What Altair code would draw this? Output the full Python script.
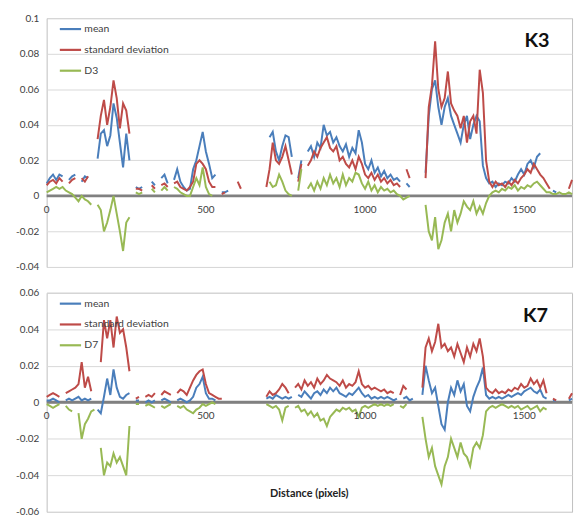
import altair as alt
import pandas as pd

N = None

# x positions (pixels along the profile), every 10 px from 0 to 1650
x_values = list(range(0, 1651, 10))

# ---------------- K3 panel ----------------
k3_mean = (
    [0.007, 0.010, 0.012, 0.009, 0.012, 0.011, N, 0.009, 0.011, 0.012]
    + [N, 0.008, 0.011, 0.010, N, N, 0.021, 0.035, 0.037, 0.028]
    + [0.034, 0.052, 0.044, 0.030, 0.016, 0.035, 0.020, N, 0.005, 0.004]
    + [0.005, N, N, 0.008, 0.006, N, 0.010, 0.012, 0.007, N]
    + [0.009, 0.015, 0.008, 0.005, 0.003, 0.004, 0.015, 0.020, 0.028, 0.036]
    + [0.025, 0.018, 0.010, 0.012, N, 0.002, 0.002, 0.003, N, N]
    + [0.006, N, N, N, N, N, N, N, N, N]
    + [0.033, 0.036, 0.025, 0.020, 0.028, 0.034, 0.033, 0.022, N, 0.010]
    + [0.020, N, 0.025, 0.028, 0.022, 0.030, 0.027, 0.040, 0.034, 0.036]
    + [0.030, 0.033, 0.028, 0.025, 0.029, 0.022, 0.027, 0.024, 0.037, 0.030]
    + [0.018, 0.015, 0.020, 0.013, 0.016, 0.011, 0.014, 0.010, 0.012, 0.009]
    + [0.010, 0.008, N, 0.007, 0.005, N, N, N, N, 0.013]
    + [0.045, 0.060, 0.065, 0.050, 0.040, 0.050, 0.055, 0.045, 0.040, 0.035]
    + [0.030, 0.040, 0.045, 0.032, 0.040, 0.045, 0.042, 0.017, 0.010, 0.007]
    + [0.008, 0.005, 0.007, 0.006, 0.008, 0.007, 0.010, 0.008, 0.012, 0.015]
    + [0.012, 0.018, 0.020, 0.016, 0.022, 0.024, N, N, N, 0.003]
    + [0.002, N, N, N, N, N]
)
k3_std = (
    [0.006, 0.008, 0.009, 0.007, 0.010, 0.008, N, 0.007, 0.009, 0.010]
    + [N, 0.010, 0.008, 0.011, N, N, 0.032, 0.045, 0.054, 0.040]
    + [0.050, 0.065, 0.055, 0.038, 0.052, 0.048, 0.035, N, 0.004, 0.004]
    + [0.003, N, N, 0.006, 0.004, N, 0.006, 0.007, 0.005, N]
    + [0.007, 0.008, 0.005, 0.004, 0.003, 0.005, 0.008, 0.018, 0.020, 0.018]
    + [0.015, 0.008, 0.005, 0.005, N, 0.001, 0.002, N, N, N]
    + [0.008, 0.004, N, N, N, N, N, N, N, 0.005]
    + [0.015, 0.030, 0.020, 0.018, 0.022, 0.028, 0.020, 0.012, N, 0.008]
    + [0.018, N, 0.017, 0.020, 0.025, 0.022, 0.027, 0.030, 0.033, 0.027]
    + [0.025, 0.028, 0.020, 0.022, 0.018, 0.016, 0.020, 0.015, 0.022, 0.018]
    + [0.012, 0.010, 0.013, 0.009, 0.012, 0.008, 0.010, 0.007, 0.009, 0.006]
    + [0.007, 0.005, N, 0.015, 0.010, N, 0.004, N, N, 0.010]
    + [0.050, 0.062, 0.087, 0.060, 0.050, 0.055, 0.070, 0.052, 0.048, 0.045]
    + [0.038, 0.045, 0.030, 0.042, 0.045, 0.035, 0.071, 0.058, 0.020, 0.008]
    + [0.005, 0.008, 0.006, 0.007, 0.005, 0.008, 0.006, 0.009, 0.007, 0.010]
    + [0.012, 0.015, 0.013, 0.018, 0.015, 0.012, 0.010, 0.007, 0.004, N]
    + [N, N, 0.002, N, 0.004, 0.009]
)
k3_d = (
    [0.002, 0.003, 0.004, 0.005, 0.004, 0.005, 0.003, 0.002, 0.001, -0.001]
    + [-0.003, 0.000, -0.002, -0.003, -0.005, N, -0.005, -0.008, -0.020, -0.015]
    + [-0.008, 0.000, -0.010, -0.020, -0.031, -0.015, -0.012, N, 0.002, 0.001]
    + [0.002, N, N, 0.004, 0.002, N, 0.003, 0.005, 0.003, N]
    + [0.005, 0.004, 0.002, 0.001, 0.000, 0.000, 0.005, 0.010, 0.006, 0.016]
    + [0.005, 0.001, 0.000, N, N, N, N, N, N, N]
    + [0.000, N, N, N, N, N, N, N, N, N]
    + [0.008, 0.005, 0.006, 0.012, 0.008, 0.003, 0.001, 0.000, N, 0.003]
    + [0.015, N, 0.004, 0.007, 0.003, 0.008, 0.004, 0.010, 0.006, 0.012]
    + [0.007, 0.010, 0.005, 0.012, 0.006, 0.010, 0.008, 0.013, 0.012, 0.007]
    + [0.004, 0.008, 0.003, 0.006, 0.002, 0.005, 0.003, 0.004, 0.002, 0.003]
    + [0.001, 0.000, -0.002, -0.001, 0.000, N, N, N, N, -0.005]
    + [-0.020, -0.025, -0.012, -0.030, -0.025, -0.015, -0.010, -0.020, -0.008, -0.015]
    + [-0.010, -0.003, -0.006, -0.008, -0.003, -0.010, -0.006, -0.010, -0.004, 0.000]
    + [0.002, 0.003, 0.002, 0.004, 0.003, 0.005, 0.004, 0.006, 0.003, 0.005]
    + [0.004, 0.006, 0.005, 0.007, 0.008, 0.006, 0.004, 0.002, 0.002, 0.001]
    + [0.001, 0.002, 0.001, 0.001, 0.002, 0.001]
)

# ---------------- K7 panel ----------------
k7_mean = (
    [0.001, 0.001, 0.002, 0.001, 0.000, N, 0.001, 0.002, 0.001, 0.002]
    + [0.003, 0.001, 0.002, 0.001, 0.002, N, -0.004, -0.006, 0.003, 0.013]
    + [0.004, 0.018, 0.008, 0.003, 0.002, 0.004, 0.005, N, 0.001, 0.001]
    + [N, 0.000, 0.001, 0.000, 0.001, N, 0.001, 0.002, 0.001, 0.000]
    + [N, 0.001, 0.002, 0.001, 0.000, 0.001, 0.003, 0.008, 0.010, 0.014]
    + [0.005, 0.002, 0.002, 0.001, N, 0.001, N, 0.001, N, N]
    + [0.001, N, N, N, N, N, N, N, N, 0.002]
    + [0.003, 0.002, 0.004, 0.003, 0.002, 0.003, 0.002, 0.003, N, 0.004]
    + [0.003, 0.006, 0.004, 0.002, 0.005, 0.006, 0.004, 0.007, 0.005, 0.008]
    + [0.006, 0.008, 0.005, 0.004, 0.003, 0.005, 0.004, 0.006, 0.008, 0.005]
    + [0.003, 0.004, 0.002, 0.003, 0.002, 0.003, 0.002, 0.003, 0.002, 0.001]
    + [0.002, N, 0.002, 0.003, 0.001, 0.002, N, N, 0.004, 0.020]
    + [0.012, 0.005, 0.008, -0.002, -0.012, -0.015, 0.000, 0.008, 0.004, 0.012]
    + [0.006, 0.010, -0.002, -0.005, 0.003, 0.008, 0.012, 0.019, 0.004, 0.002]
    + [0.003, 0.002, 0.003, 0.002, 0.003, 0.004, 0.003, 0.004, 0.005, 0.004]
    + [0.006, 0.007, 0.008, 0.006, 0.005, 0.007, 0.003, 0.002, N, 0.001]
    + [0.001, N, 0.001, N, 0.001, 0.002]
)
k7_std = (
    [0.003, 0.004, 0.005, 0.004, 0.003, N, 0.005, 0.006, 0.007, 0.008]
    + [0.010, 0.022, 0.008, 0.014, 0.006, N, N, 0.022, 0.045, 0.035]
    + [0.045, 0.030, 0.047, 0.038, 0.040, 0.030, 0.017, N, 0.002, 0.003]
    + [N, 0.003, 0.004, 0.003, 0.005, N, 0.004, 0.006, 0.005, 0.004]
    + [N, 0.005, 0.007, 0.006, 0.004, 0.008, 0.012, 0.015, 0.017, 0.018]
    + [0.010, 0.005, 0.004, 0.003, 0.002, 0.002, N, 0.002, N, N]
    + [0.003, N, N, N, N, N, N, N, N, 0.003]
    + [0.006, 0.004, 0.005, 0.007, 0.010, 0.008, 0.005, N, 0.008, 0.010]
    + [0.007, 0.012, 0.009, 0.011, 0.008, 0.013, 0.010, 0.012, 0.015, 0.013]
    + [0.012, 0.011, 0.009, 0.012, 0.008, 0.010, 0.009, 0.011, 0.017, 0.010]
    + [0.008, 0.009, 0.007, 0.008, 0.007, 0.006, 0.007, 0.005, 0.006, 0.005]
    + [N, 0.004, 0.009, 0.007, N, 0.003, N, N, 0.008, 0.030]
    + [0.035, 0.028, 0.033, 0.043, 0.030, 0.032, 0.028, 0.030, 0.025, 0.032]
    + [0.027, 0.022, 0.030, 0.025, 0.032, 0.028, 0.035, 0.025, 0.008, 0.006]
    + [0.005, 0.007, 0.005, 0.006, 0.005, 0.007, 0.006, 0.008, 0.007, 0.010]
    + [0.008, 0.009, 0.013, 0.010, 0.012, 0.008, 0.012, 0.005, N, 0.002]
    + [0.001, N, 0.001, N, 0.002, 0.005]
)
k7_d = (
    [-0.001, -0.002, -0.003, -0.002, -0.001, N, -0.002, -0.004, -0.005, N]
    + [-0.006, -0.020, -0.012, -0.009, -0.005, -0.004, N, -0.025, -0.040, -0.033]
    + [-0.035, -0.028, -0.033, -0.030, -0.035, -0.040, -0.013, N, -0.001, -0.001]
    + [N, -0.002, -0.001, -0.002, -0.003, N, -0.002, -0.003, -0.002, -0.001]
    + [N, -0.002, -0.003, -0.002, -0.004, -0.005, -0.006, -0.004, -0.003, -0.001]
    + [-0.002, -0.001, 0.000, -0.001, N, -0.001, N, N, N, N]
    + [N, N, N, N, N, N, N, N, N, -0.001]
    + [-0.002, -0.003, -0.002, -0.004, -0.010, -0.003, -0.002, N, -0.003, -0.002]
    + [-0.005, -0.004, -0.007, -0.005, -0.008, -0.006, -0.010, -0.009, -0.013, -0.008]
    + [-0.006, -0.004, -0.005, -0.003, -0.004, -0.003, -0.005, -0.004, -0.008, -0.003]
    + [-0.002, -0.003, -0.002, -0.001, -0.002, -0.001, -0.002, -0.001, -0.002, -0.001]
    + [N, -0.002, -0.003, -0.001, N, -0.001, N, N, -0.008, -0.020]
    + [-0.030, -0.025, -0.035, -0.040, -0.045, -0.035, -0.030, -0.020, -0.025, -0.030]
    + [-0.022, -0.028, -0.030, -0.035, -0.025, -0.022, -0.025, -0.018, -0.005, -0.003]
    + [-0.002, -0.003, -0.002, -0.001, -0.002, -0.003, -0.002, -0.003, -0.002, -0.004]
    + [-0.003, -0.002, -0.004, -0.003, -0.002, -0.005, -0.003, -0.004, N, -0.001]
    + [N, N, N, N, N, N]
)

x_tick_values = [0, 500, 1000, 1500]
x_tick_labels = ["0", "500", "1000", "1500"]
k3_y_ticks = [-0.04, -0.02, 0, 0.02, 0.04, 0.06, 0.08, 0.1]
k7_y_ticks = [-0.06, -0.04, -0.02, 0, 0.02, 0.04, 0.06]

BLUE, RED, GREEN = "#4A7EBB", "#BE4B48", "#98B954"
FONT = "Lato"
X_MAX = 1650
PLOT_W = 530

for arr in (k3_mean, k3_std, k3_d, k7_mean, k7_std, k7_d):
    assert len(arr) == len(x_values), len(arr)


def long_df(mean, std, d, dlabel):
    rows = []
    for name, vals in (("mean", mean), ("standard deviation", std), (dlabel, d)):
        for xv, v in zip(x_values, vals):
            rows.append({"x": xv, "v": v, "series": name})
    return pd.DataFrame(rows)


def panel(mean, std, d, dlabel, ydomain, yticks, height, klabel, kpos, legend_y, xlabel=None):
    df = long_df(mean, std, d, dlabel)
    xs = alt.Scale(domain=[0, X_MAX], nice=False, zero=False)
    ys = alt.Scale(domain=ydomain, nice=False, zero=False)
    yaxis = alt.Axis(
        values=yticks,
        title=None,
        labelExpr="datum.value == 0 ? '0' : toString(round(datum.value * 100) / 100)",
    )
    color = alt.Color(
        "series:N",
        scale=alt.Scale(domain=["mean", "standard deviation", dlabel], range=[BLUE, RED, GREEN]),
        legend=alt.Legend(
            title=None,
            orient="none",
            legendX=12,
            legendY=legend_y,
            symbolType="stroke",
            symbolSize=460,
            symbolStrokeWidth=2.2,
            labelFontSize=10.5,
            labelFont=FONT,
            labelColor="#404040",
            rowPadding=3,
            labelOffset=2,
            padding=0,
        ),
    )

    zero = alt.Chart(pd.DataFrame({"y": [0]})).mark_rule(color="#808080", strokeWidth=3).encode(
        y=alt.Y("y:Q", scale=ys, axis=yaxis)
    )
    lines = alt.Chart(df).mark_line(strokeWidth=2).encode(
        x=alt.X("x:Q", scale=xs, axis=None),
        y=alt.Y("v:Q", scale=ys, axis=yaxis),
        color=color,
    )
    ticks_df = pd.DataFrame({"x": x_tick_values, "y": [0] * len(x_tick_values), "label": x_tick_labels})
    tick_text = alt.Chart(ticks_df).mark_text(dy=14, fontSize=10, font=FONT, color="#404040").encode(
        x=alt.X("x:Q", scale=xs, axis=None),
        y=alt.Y("y:Q", scale=ys, axis=yaxis),
        text="label:N",
    )
    kdf = pd.DataFrame({"x": [kpos[0]], "y": [kpos[1]], "label": [klabel]})
    ktext = alt.Chart(kdf).mark_text(fontSize=20, fontWeight="bold", font=FONT, color="#111111").encode(
        x=alt.X("x:Q", scale=xs, axis=None),
        y=alt.Y("y:Q", scale=ys, axis=yaxis),
        text="label:N",
    )
    layers = [zero, lines, tick_text, ktext]
    if xlabel is not None:
        ldf = pd.DataFrame({"x": [xlabel[0]], "y": [xlabel[1]], "label": [xlabel[2]]})
        layers.append(
            alt.Chart(ldf).mark_text(fontSize=11, fontWeight="bold", font=FONT, color="#222222").encode(
                x=alt.X("x:Q", scale=xs, axis=None),
                y=alt.Y("y:Q", scale=ys, axis=yaxis),
                text="label:N",
            )
        )
    return alt.layer(*layers).properties(width=PLOT_W, height=height)


top = panel(k3_mean, k3_std, k3_d, "D3", [-0.04, 0.1], k3_y_ticks, 251, "K3", (1540, 0.087), -1)
bottom = panel(
    k7_mean, k7_std, k7_d, "D7", [-0.06, 0.06], k7_y_ticks, 221, "K7", (1535, 0.047), -1,
    xlabel=(825, -0.05, "Distance  (pixels)"),
)

chart = (
    alt.vconcat(top, bottom, spacing=14)
    .resolve_scale(color="independent")
    .properties(padding={"left": 7, "top": 2, "right": 0, "bottom": 0}, background="white")
    .configure_view(stroke="#bfbfbf", strokeWidth=1)
    .configure_axis(
        grid=True,
        gridColor="#d9d9d9",
        gridWidth=1,
        domain=False,
        ticks=False,
        labelFont=FONT,
        labelFontSize=10,
        labelColor="#404040",
        labelPadding=8,
    )
)

chart.save("out.html", embed_options={"renderer": "svg", "actions": False})
